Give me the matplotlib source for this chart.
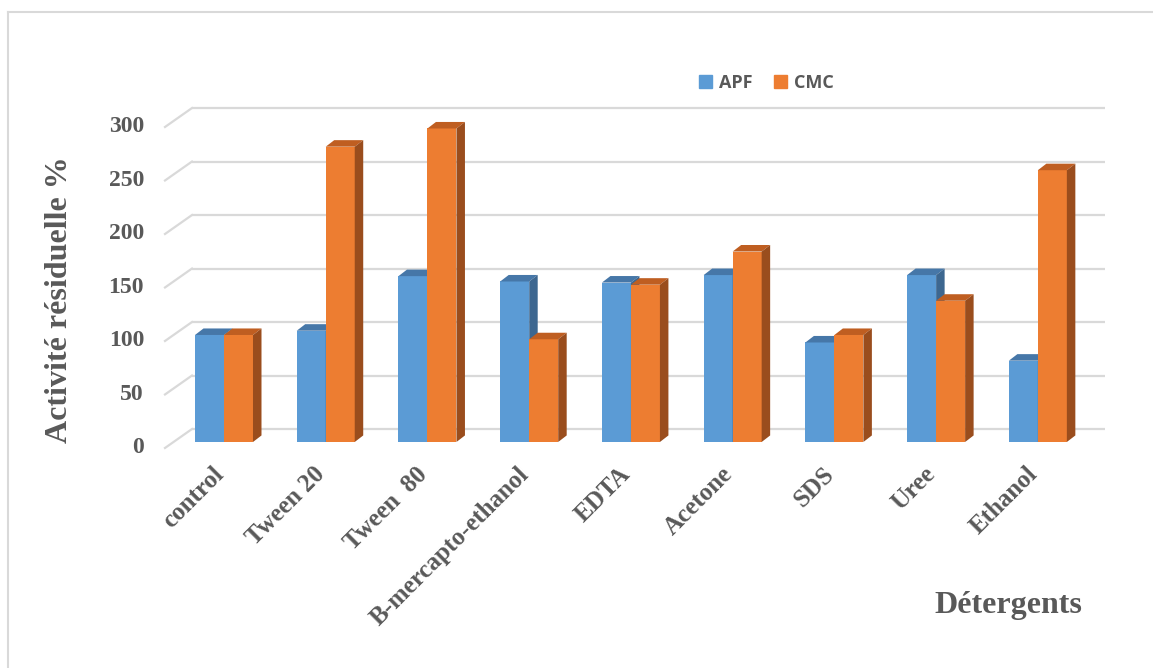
import matplotlib
matplotlib.use("Agg")
import matplotlib.pyplot as plt
from matplotlib.patches import Polygon, Patch
from matplotlib.lines import Line2D

# residual activity (%) per detergent
categories = ["control", "Tween 20", "Tween  80", "B-mercapto-ethanol", "EDTA",
              "Acetone", "SDS", "Uree", "Ethanol"]
apf = [100, 104, 155, 150, 149, 156, 93, 156, 76]
cmc = [100, 276, 293, 96, 147, 178, 100, 132, 254]
yticks = [0, 50, 100, 150, 200, 250, 300]

W, H = 1153, 668
blue, blue_top, blue_side = "#5B9BD5", "#4677A8", "#3D6790"
orange, orange_top, orange_side = "#ED7D31", "#BF5E21", "#9A4D1D"
grid_c = "#D9D9D9"
text_c = "#595959"
serif = "Liberation Serif"

fig = plt.figure(figsize=(W / 100, H / 100), dpi=100)
ax = fig.add_axes([165 / W, (H - 448.4) / H, 940 / W, 348.8 / H])
xl, xr = -0.58, 8.66
ax.set_xlim(xl, xr)
ax.set_ylim(-6, 320)
ax.axis("off")

# depth of the bars and of the back wall, in data units
bw = 0.285
bdx, bdy = 0.0835, 6.1
wdx, wdy = 0.265, 12.1
front_dy = -5.6

# back wall grid + left wall diagonals
for v in yticks:
    ax.plot([xl + wdx, xr], [v + wdy, v + wdy], color=grid_c, lw=1.6,
            zorder=1, clip_on=False, solid_capstyle="butt")
    ax.plot([xl, xl + wdx], [v + front_dy, v + wdy], color=grid_c, lw=1.6,
            zorder=1, clip_on=False)
    ax.text(xl - 0.206, v + front_dy, str(v), ha="right", va="center",
            fontsize=17, fontweight="bold", family=serif, color=text_c)


def bar3d(x0, h, front, top, side, z):
    ax.bar(x0, h, bw, align="edge", color=front, zorder=z, lw=0)
    ax.add_patch(Polygon([(x0, h), (x0 + bdx, h + bdy), (x0 + bw + bdx, h + bdy),
                          (x0 + bw, h)], closed=True, color=top, lw=0,
                         zorder=z, clip_on=False))
    ax.add_patch(Polygon([(x0 + bw, 0), (x0 + bw + bdx, bdy),
                          (x0 + bw + bdx, h + bdy), (x0 + bw, h)], closed=True,
                         color=side, lw=0, zorder=z, clip_on=False))


for i, (a, c) in enumerate(zip(apf, cmc)):
    bar3d(i - bw, a, blue, blue_top, blue_side, 3)
    bar3d(i, c, orange, orange_top, orange_side, 4)

for i, name in enumerate(categories):
    ax.text(i - 0.04, -27, name, rotation=45, rotation_mode="anchor",
            ha="right", va="center", fontsize=18, fontweight="bold",
            family=serif, color=text_c, clip_on=False)

fig.text(60 / W, 1 - 300 / H, "Activité résiduelle %", rotation=90,
         ha="center", va="center", fontsize=23, fontweight="bold",
         family=serif, color=text_c)
fig.text(1008 / W, 1 - 605 / H, "Détergents", ha="center", va="center",
         fontsize=23, fontweight="bold", family=serif, color=text_c)

fig.legend(handles=[Patch(color=blue, label="APF"), Patch(color=orange, label="CMC")],
           loc="center", bbox_to_anchor=(766 / W, 1 - 83 / H), ncol=2,
           frameon=False, prop={"family": "Open Sans", "weight": "bold", "size": 13},
           labelcolor=text_c, handlelength=0.75, handleheight=0.75,
           handletextpad=0.35, columnspacing=1.2)

# chart area border (left and top edges)
fig.add_artist(Line2D([8 / W, 8 / W], [0, 1 - 12 / H], transform=fig.transFigure,
                      color=grid_c, lw=1.5))
fig.add_artist(Line2D([8 / W, 1], [1 - 12 / H, 1 - 12 / H], transform=fig.transFigure,
                      color=grid_c, lw=1.5))

fig.savefig("out.png", dpi=100)
